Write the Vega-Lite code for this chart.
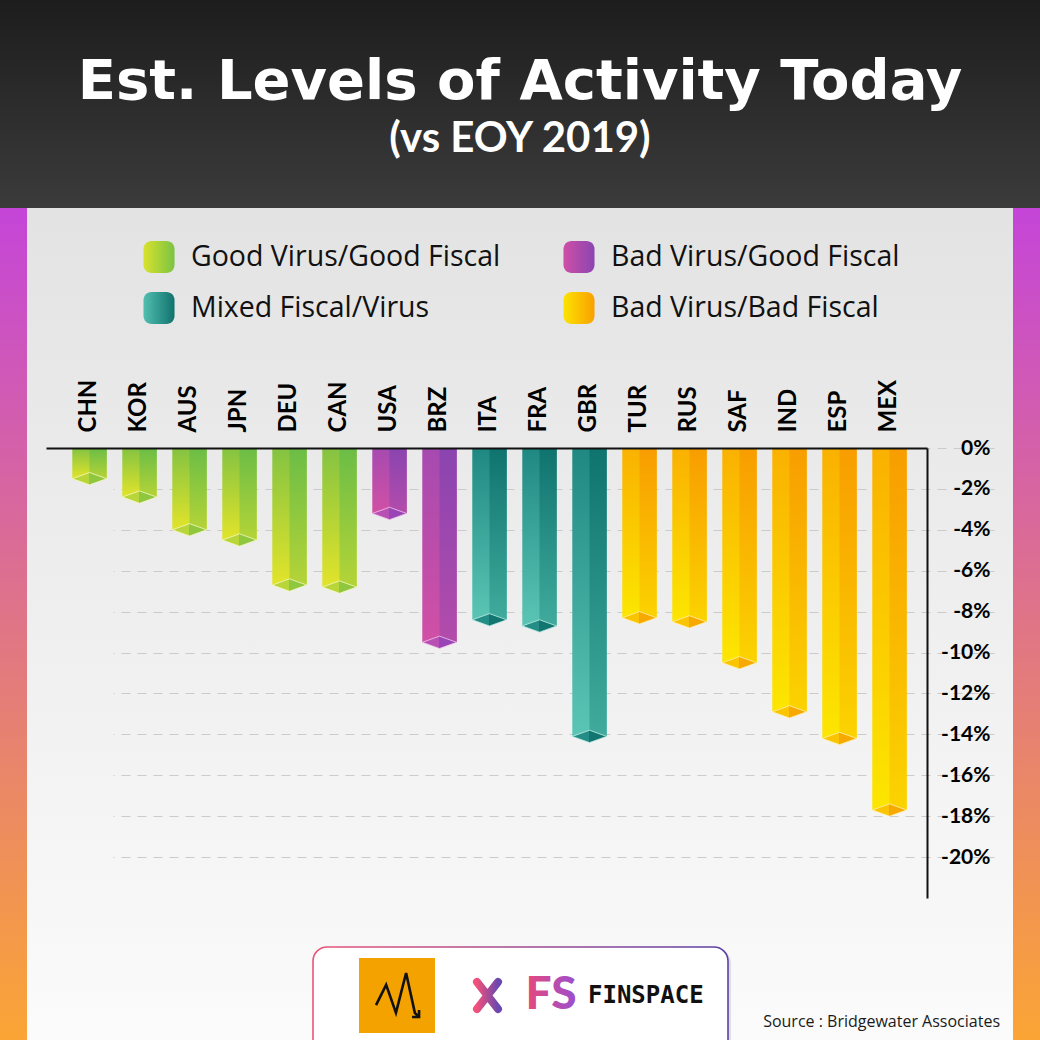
{
  "$schema": "https://vega.github.io/schema/vega-lite/v6.json",
  "width": 1040,
  "height": 1040,
  "autosize": {"type": "none"},
  "padding": 0,
  "background": "#eeeeee",
  "view": {
    "fill": {"gradient": "linear", "x1": 0, "y1": 0, "x2": 0, "y2": 1, "stops": [{"offset": 0, "color": "#1d1d1d"}, {"offset": 0.2, "color": "#3b3b3b"}, {"offset": 0.2, "color": "#e3e3e3"}, {"offset": 1, "color": "#fbfbfb"}]},
    "stroke": {"gradient": "linear", "x1": 0, "y1": 0, "x2": 0, "y2": 1, "stops": [{"offset": 0.2, "color": "#c445d8"}, {"offset": 1, "color": "#fba535"}]},
    "strokeWidth": 54,
    "strokeDash": [0, 1248, 832, 1040, 832, 208]
  },
  "title": {
    "text": "Est. Levels of Activity Today",
    "subtitle": "(vs EOY 2019)",
    "anchor": "middle",
    "frame": "group",
    "orient": "top",
    "offset": -161,
    "color": "#ffffff",
    "font": "DejaVu Sans",
    "fontSize": 56,
    "fontWeight": "bold",
    "subtitleColor": "#ffffff",
    "subtitleFont": "Lato",
    "subtitleFontSize": 42,
    "subtitleFontWeight": "bold",
    "subtitlePadding": 8
  },
  "layer": [
    {
      "data": {"values": [
        {"country": "CHN", "value": -1.5, "group": "Good Virus/Good Fiscal"},
        {"country": "KOR", "value": -2.4, "group": "Good Virus/Good Fiscal"},
        {"country": "AUS", "value": -4.0, "group": "Good Virus/Good Fiscal"},
        {"country": "JPN", "value": -4.5, "group": "Good Virus/Good Fiscal"},
        {"country": "DEU", "value": -6.7, "group": "Good Virus/Good Fiscal"},
        {"country": "CAN", "value": -6.8, "group": "Good Virus/Good Fiscal"},
        {"country": "USA", "value": -3.2, "group": "Bad Virus/Good Fiscal"},
        {"country": "BRZ", "value": -9.5, "group": "Bad Virus/Good Fiscal"},
        {"country": "ITA", "value": -8.4, "group": "Mixed Fiscal/Virus"},
        {"country": "FRA", "value": -8.7, "group": "Mixed Fiscal/Virus"},
        {"country": "GBR", "value": -14.1, "group": "Mixed Fiscal/Virus"},
        {"country": "TUR", "value": -8.3, "group": "Bad Virus/Bad Fiscal"},
        {"country": "RUS", "value": -8.5, "group": "Bad Virus/Bad Fiscal"},
        {"country": "SAF", "value": -10.5, "group": "Bad Virus/Bad Fiscal"},
        {"country": "IND", "value": -12.9, "group": "Bad Virus/Bad Fiscal"},
        {"country": "ESP", "value": -14.2, "group": "Bad Virus/Bad Fiscal"},
        {"country": "MEX", "value": -17.7, "group": "Bad Virus/Bad Fiscal"}
      ]},
      "encoding": {
        "x": {
          "field": "country", "type": "nominal", "sort": null,
          "scale": {"range": [46, 927], "paddingInner": 0.312, "paddingOuter": 0.466, "align": 0.564},
          "axis": {"orient": "top", "offset": -448, "title": null, "labelAngle": -90, "labelAlign": "left", "labelBaseline": "middle", "labelPadding": 16, "ticks": false, "tickSize": 0, "domainColor": "#111111", "domainWidth": 2, "labelFont": "Lato", "labelFontSize": 24, "labelFontWeight": "bold", "labelColor": "#000000", "grid": false, "zindex": 1}
        },
        "y": {
          "field": "value", "type": "quantitative",
          "scale": {"domain": [-22, 0], "range": [898, 448], "nice": false, "zero": false},
          "axis": {"orient": "right", "offset": -113, "title": null, "values": [0, -2, -4, -6, -8, -10, -12, -14, -16, -18, -20], "labelExpr": "datum.value + '%'", "labelAlign": "right", "labelBaseline": "middle", "labelPadding": 63, "ticks": false, "tickSize": 0, "domainColor": "#111111", "domainWidth": 2, "labelFont": "Lato", "labelFontSize": 21, "labelFontWeight": "bold", "labelColor": "#000000", "grid": true, "gridColor": "#cbcbcb", "gridDash": [9, 7], "gridWidth": 1}
        }
      },
      "layer": [
        {"transform": [{"filter": "datum.group === 'Good Virus/Good Fiscal'"}],
         "mark": {"type": "bar", "fill": {"gradient": "linear", "x1": 0, "y1": 0, "x2": 0, "y2": 1, "stops": [{"offset": 0, "color": "#84c342"}, {"offset": 1, "color": "#e2e42a"}]}}},
        {"transform": [{"filter": "datum.group === 'Good Virus/Good Fiscal'"}],
         "mark": {"type": "bar", "width": {"band": 0.5}, "xOffset": 8.6, "fill": {"gradient": "linear", "x1": 0, "y1": 0, "x2": 0, "y2": 1, "stops": [{"offset": 0, "color": "#6bbd46"}, {"offset": 1, "color": "#b5d437"}]}}},
        {"transform": [{"filter": "datum.group === 'Bad Virus/Good Fiscal'"}],
         "mark": {"type": "bar", "fill": {"gradient": "linear", "x1": 0, "y1": 0, "x2": 0, "y2": 1, "stops": [{"offset": 0, "color": "#a64ab0"}, {"offset": 1, "color": "#d150a5"}]}}},
        {"transform": [{"filter": "datum.group === 'Bad Virus/Good Fiscal'"}],
         "mark": {"type": "bar", "width": {"band": 0.5}, "xOffset": 8.6, "fill": {"gradient": "linear", "x1": 0, "y1": 0, "x2": 0, "y2": 1, "stops": [{"offset": 0, "color": "#8a44b0"}, {"offset": 1, "color": "#b34cab"}]}}},
        {"transform": [{"filter": "datum.group === 'Mixed Fiscal/Virus'"}],
         "mark": {"type": "bar", "fill": {"gradient": "linear", "x1": 0, "y1": 0, "x2": 0, "y2": 1, "stops": [{"offset": 0, "color": "#1f8882"}, {"offset": 1, "color": "#5bc5b5"}]}}},
        {"transform": [{"filter": "datum.group === 'Mixed Fiscal/Virus'"}],
         "mark": {"type": "bar", "width": {"band": 0.5}, "xOffset": 8.6, "fill": {"gradient": "linear", "x1": 0, "y1": 0, "x2": 0, "y2": 1, "stops": [{"offset": 0, "color": "#0f736e"}, {"offset": 1, "color": "#40ab9d"}]}}},
        {"transform": [{"filter": "datum.group === 'Bad Virus/Bad Fiscal'"}],
         "mark": {"type": "bar", "fill": {"gradient": "linear", "x1": 0, "y1": 0, "x2": 0, "y2": 1, "stops": [{"offset": 0, "color": "#fab100"}, {"offset": 1, "color": "#fce600"}]}}},
        {"transform": [{"filter": "datum.group === 'Bad Virus/Bad Fiscal'"}],
         "mark": {"type": "bar", "width": {"band": 0.5}, "xOffset": 8.6, "fill": {"gradient": "linear", "x1": 0, "y1": 0, "x2": 0, "y2": 1, "stops": [{"offset": 0, "color": "#f89d00"}, {"offset": 1, "color": "#fbd300"}]}}},
        {"transform": [{"filter": "datum.group === 'Good Virus/Good Fiscal'"}],
         "mark": {"type": "point", "shape": "M-1,0L0,0.36L1,0L0,-0.36Z", "size": 1183, "filled": true, "opacity": 1, "stroke": "#f6f7c0", "strokeWidth": 0.8, "fill": {"gradient": "linear", "x1": 0, "y1": 0, "x2": 1, "y2": 0, "stops": [{"offset": 0, "color": "#b8d63a"}, {"offset": 0.5, "color": "#b8d63a"}, {"offset": 0.5, "color": "#8fc73f"}, {"offset": 1, "color": "#8fc73f"}]}}},
        {"transform": [{"filter": "datum.group === 'Bad Virus/Good Fiscal'"}],
         "mark": {"type": "point", "shape": "M-1,0L0,0.36L1,0L0,-0.36Z", "size": 1183, "filled": true, "opacity": 1, "stroke": "#f3c8ee", "strokeWidth": 0.8, "fill": {"gradient": "linear", "x1": 0, "y1": 0, "x2": 1, "y2": 0, "stops": [{"offset": 0, "color": "#b84fb3"}, {"offset": 0.5, "color": "#b84fb3"}, {"offset": 0.5, "color": "#9a45b5"}, {"offset": 1, "color": "#9a45b5"}]}}},
        {"transform": [{"filter": "datum.group === 'Mixed Fiscal/Virus'"}],
         "mark": {"type": "point", "shape": "M-1,0L0,0.36L1,0L0,-0.36Z", "size": 1183, "filled": true, "opacity": 1, "stroke": "#bfeee6", "strokeWidth": 0.8, "fill": {"gradient": "linear", "x1": 0, "y1": 0, "x2": 1, "y2": 0, "stops": [{"offset": 0, "color": "#248e86"}, {"offset": 0.5, "color": "#248e86"}, {"offset": 0.5, "color": "#137570"}, {"offset": 1, "color": "#137570"}]}}},
        {"transform": [{"filter": "datum.group === 'Bad Virus/Bad Fiscal'"}],
         "mark": {"type": "point", "shape": "M-1,0L0,0.36L1,0L0,-0.36Z", "size": 1183, "filled": true, "opacity": 1, "stroke": "#fff3b0", "strokeWidth": 0.8, "fill": {"gradient": "linear", "x1": 0, "y1": 0, "x2": 1, "y2": 0, "stops": [{"offset": 0, "color": "#fbc400"}, {"offset": 0.5, "color": "#fbc400"}, {"offset": 0.5, "color": "#f8a900"}, {"offset": 1, "color": "#f8a900"}]}}},
        {"mark": {"type": "circle", "opacity": 0},
         "encoding": {
           "color": {
             "field": "group", "type": "nominal",
             "scale": {"domain": ["Good Virus/Good Fiscal", "Mixed Fiscal/Virus", "Bad Virus/Good Fiscal", "Bad Virus/Bad Fiscal"],
                       "range": [
                         {"expr": "{gradient: 'linear', stops: [{offset: 0, color: '#d8e22c'}, {offset: 1, color: '#7bc345'}]}"},
                         {"expr": "{gradient: 'linear', stops: [{offset: 0, color: '#52bfb0'}, {offset: 1, color: '#10726d'}]}"},
                         {"expr": "{gradient: 'linear', stops: [{offset: 0, color: '#cf4fa6'}, {offset: 1, color: '#8b45b1'}]}"},
                         {"expr": "{gradient: 'linear', stops: [{offset: 0, color: '#fce300'}, {offset: 1, color: '#f9a000'}]}"}
                       ]},
             "legend": {
               "orient": "none", "legendX": 143, "legendY": 241, "columns": 2, "direction": "vertical",
               "title": null, "padding": 0,
               "symbolType": "M-0.97,-0.5 A0.5,0.5 0 0 1 -0.47,-1 L0.47,-1 A0.5,0.5 0 0 1 0.97,-0.5 L0.97,0.5 A0.5,0.5 0 0 1 0.47,1 L-0.47,1 A0.5,0.5 0 0 1 -0.97,0.5 Z",
               "symbolSize": 1024, "symbolStrokeWidth": 0, "symbolOpacity": 1,
               "labelFont": "Open Sans", "labelFontSize": 28.5, "labelColor": "#111111", "labelOffset": 16, "labelLimit": 500,
               "columnPadding": 62, "rowPadding": 19
             }
           }
         }}
      ]
    },
    {
      "data": {"values": [{}]},
      "layer": [
        {"mark": {"type": "rect", "fill": "#b8a8b8", "opacity": 0.35, "cornerRadius": 14},
         "encoding": {"x": {"value": 315}, "x2": {"value": 731}, "y": {"value": 949}, "y2": {"value": 1075}}},
        {"mark": {"type": "rect", "fill": "#ffffff", "cornerRadius": 14, "strokeWidth": 1.6, "stroke": {"gradient": "linear", "x1": 0, "y1": 0, "x2": 1, "y2": 0, "stops": [{"offset": 0, "color": "#ea5478"}, {"offset": 1, "color": "#5a40a6"}]}},
         "encoding": {"x": {"value": 313}, "x2": {"value": 728}, "y": {"value": 947}, "y2": {"value": 1075}}},
        {"mark": {"type": "rect", "fill": "#f3a200"},
         "encoding": {"x": {"value": 359}, "x2": {"value": 435}, "y": {"value": 958}, "y2": {"value": 1033}}},
        {"mark": {"type": "point", "shape": "M-0.6,0.29L-0.31,-0.29L-0.03,0.51L0.26,-0.63L0.51,0.51L0.63,0.63M0.63,0.43L0.63,0.63L0.43,0.63", "size": 4900, "filled": false, "opacity": 1, "stroke": "#111111", "strokeWidth": 2.6, "strokeJoin": "miter"},
         "encoding": {"x": {"value": 397}, "y": {"value": 995}}},
        {"mark": {"type": "point", "shape": "M-0.7,-0.9L0.7,0.9M0.7,-0.9L-0.7,0.9", "size": 900, "filled": false, "opacity": 1, "strokeWidth": 8, "strokeCap": "round", "stroke": {"gradient": "linear", "x1": 0, "y1": 0, "x2": 1, "y2": 0, "stops": [{"offset": 0, "color": "#f0507a"}, {"offset": 1, "color": "#6a48b0"}]}},
         "encoding": {"x": {"value": 487.5}, "y": {"value": 995.5}}},
        {"mark": {"type": "text", "text": "FS", "font": "Lato", "fontSize": 46, "fontWeight": 900, "align": "center", "baseline": "middle", "fill": {"gradient": "linear", "x1": 0, "y1": 0, "x2": 1, "y2": 0, "stops": [{"offset": 0, "color": "#e8487a"}, {"offset": 1, "color": "#9b4fd0"}]}},
         "encoding": {"x": {"value": 551}, "y": {"value": 995}}},
        {"mark": {"type": "text", "text": "FINSPACE", "font": "DejaVu Sans Mono", "fontSize": 24, "fontWeight": "bold", "align": "left", "baseline": "middle", "color": "#111111"},
         "encoding": {"x": {"value": 588}, "y": {"value": 996}}},
        {"mark": {"type": "text", "text": "Source : Bridgewater Associates", "font": "Open Sans", "fontSize": 16, "align": "right", "baseline": "alphabetic", "color": "#1a1a1a"},
         "encoding": {"x": {"value": 1000}, "y": {"value": 1027}}}
      ]
    }
  ]
}
